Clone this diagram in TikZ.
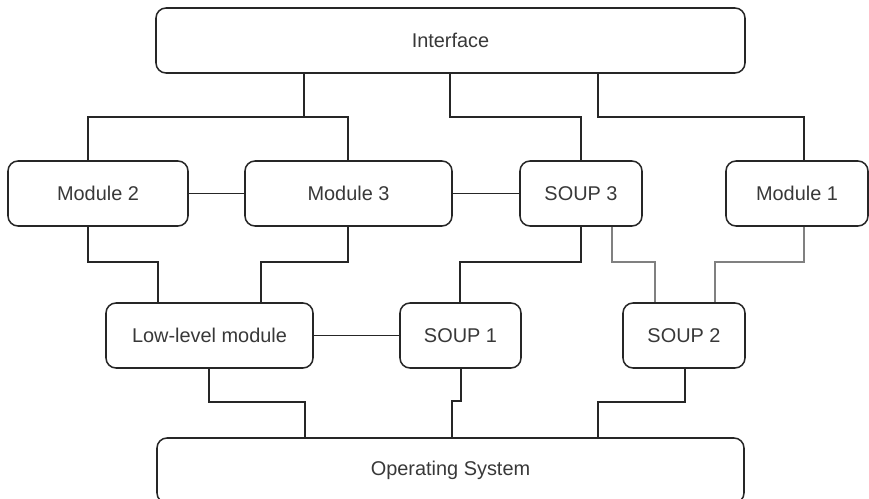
\documentclass[tikz,border=0pt]{standalone}
\usepackage{fontspec}
\setmainfont{Liberation Sans}
\usetikzlibrary{positioning}

\begin{document}
\begin{tikzpicture}[
    x=0.3mm, y=-0.3mm,
    every node/.style={font=\fontsize{17}{20}\selectfont, text=black!78},
    block/.style ={draw=black!85, line width=1.3pt, rounded corners=3mm,
                   align=center, minimum height=19.5mm, inner sep=0pt},
    wire/.style  ={draw=black!85, line width=1.2pt},
    dimwire/.style={draw=black!50, line width=1.2pt},
]
\useasboundingbox (0,0) rectangle (869,499);

% layers, top to bottom
\node[block, minimum width=176.7mm] (iface) at (450.5,40.5) {Interface};

\node[block, minimum width=54mm]   (mod2)  at (98,193.5)  {Module 2};
\node[block, minimum width=62.1mm] (mod3)  at (348.5,193.5) {Module 3};
\node[block, minimum width=36.6mm] (soup3) at (581,193.5) {SOUP 3};
\node[block, minimum width=42.6mm] (mod1)  at (797,193.5) {Module 1};

\node[block, minimum width=62.1mm] (low)   at (209.5,335.5) {Low-level module};
\node[block, minimum width=36.3mm] (soup1) at (460.5,335.5) {SOUP 1};
\node[block, minimum width=36.6mm] (soup2) at (684,335.5)   {SOUP 2};

\node[block, minimum width=176.1mm] (os) at (450.5,470.5) {Operating System};

% interface down to the module row
\draw[wire] (iface.south -| 304,0) |- (88,117) -- (mod2.north -| 88,0);
\draw[wire] (iface.south -| 304,0) |- (348,117) -- (mod3.north -| 348,0);
\draw[wire] (iface.south -| 450,0) |- (581,117) -- (soup3.north);
\draw[wire] (iface.south -| 598,0) |- (804,117) -- (mod1.north -| 804,0);

% side links
\draw[wire] (mod2) -- (mod3);
\draw[wire] (mod3) -- (soup3);
\draw[wire] (low) -- (soup1);

% module row down to the low-level row
\draw[wire] (mod2.south -| 88,0) |- (158,262) -- (low.north -| 158,0);
\draw[wire] (mod3.south -| 348,0) |- (261,262) -- (low.north -| 261,0);
\draw[wire] (soup3.south) |- (460,262) -- (soup1.north -| 460,0);
\draw[dimwire] (soup3.south -| 612,0) |- (655,262) -- (soup2.north -| 655,0);
\draw[dimwire] (mod1.south -| 804,0) |- (715,262) -- (soup2.north -| 715,0);

% everything ends on the OS
\draw[wire] (low.south -| 209,0) |- (305,402) -- (os.north -| 305,0);
\draw[wire] (soup1.south -| 461,0) |- (452,401) -- (os.north -| 452,0);
\draw[wire] (soup2.south -| 685,0) |- (598,402) -- (os.north -| 598,0);
\end{tikzpicture}
\end{document}
